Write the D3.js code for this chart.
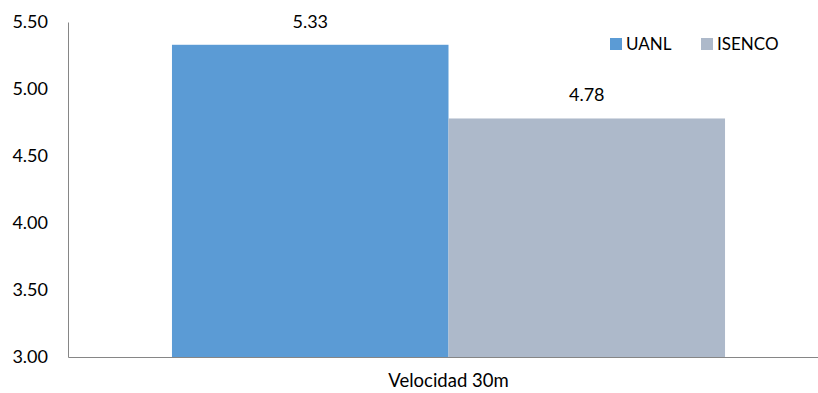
<!DOCTYPE html>
<html>
<head>
<meta charset="utf-8">
<script src="https://cdn.jsdelivr.net/npm/d3@7"></script>
<style>
  html, body { margin: 0; padding: 0; background: #fff; }
  svg { display: block; }
  text { font-family: Lato, "Open Sans", sans-serif; fill: #000; }
</style>
</head>
<body>
<svg id="chart" width="818" height="393"></svg>
<script>
// Chart data
const categories = ["Velocidad 30m"];
const seriesNames = ["UANL", "ISENCO"];
const uanlValues = [5.33];
const isencoValues = [4.78];
const yTicks = [3.0, 3.5, 4.0, 4.5, 5.0, 5.5];
const seriesColors = ["#5B9BD5", "#ADB9CA"];

const svg = d3.select("#chart");
const plot = { left: 68, right: 829, top: 22, bottom: 357 };

const y = d3.scaleLinear().domain([3.0, 5.5]).range([plot.bottom, plot.top]);
const x0 = d3.scaleBand().domain(categories).range([plot.left, plot.right])
  .paddingInner(0).paddingOuter(0.188);
const x1 = d3.scaleBand().domain(seriesNames).range([0, x0.bandwidth()]).padding(0);

const rows = categories.map((c, i) => ({
  category: c,
  values: [
    { name: seriesNames[0], value: uanlValues[i], color: seriesColors[0] },
    { name: seriesNames[1], value: isencoValues[i], color: seriesColors[1] }
  ]
}));

// Bars
const groups = svg.selectAll("g.cat").data(rows).enter().append("g")
  .attr("class", "cat")
  .attr("transform", d => `translate(${x0(d.category)},0)`);

groups.selectAll("rect").data(d => d.values).enter().append("rect")
  .attr("x", d => x1(d.name))
  .attr("y", d => y(d.value))
  .attr("width", x1.bandwidth())
  .attr("height", d => plot.bottom - y(d.value))
  .attr("fill", d => d.color);

// Value labels above each bar
groups.selectAll("text.val").data(d => d.values).enter().append("text")
  .attr("class", "val")
  .attr("x", d => x1(d.name) + x1.bandwidth() / 2)
  .attr("y", d => y(d.value) - 17)
  .attr("text-anchor", "middle")
  .style("font-size", "18px")
  .text(d => d.value.toFixed(2));

// Y axis
const yAxis = d3.axisLeft(y).tickValues(yTicks).tickFormat(d3.format(".2f")).tickSize(0).tickPadding(20);
const gy = svg.append("g").attr("transform", `translate(${plot.left},0)`).call(yAxis);
gy.select(".domain").attr("stroke", "#868686").attr("stroke-width", 1);
gy.selectAll("text").style("font-size", "18px").style("font-family", "Lato, 'Open Sans', sans-serif").attr("fill", "#000");

// X axis
const xAxis = d3.axisBottom(x0).tickSize(0).tickPadding(17);
const gx = svg.append("g").attr("transform", `translate(0,${plot.bottom})`).call(xAxis);
gx.select(".domain").attr("stroke", "#868686").attr("stroke-width", 1);
gx.selectAll("text").style("font-size", "18.5px").style("font-family", "Lato, 'Open Sans', sans-serif").attr("fill", "#000");

// Legend
const legendX = [610, 701];
const legend = svg.append("g");
seriesNames.forEach((name, i) => {
  legend.append("rect").attr("x", legendX[i]).attr("y", 38).attr("width", 12).attr("height", 12)
    .attr("fill", seriesColors[i]);
  legend.append("text").attr("x", legendX[i] + 16).attr("y", 50)
    .style("font-size", "17px").text(name);
});
</script>
</body>
</html>
